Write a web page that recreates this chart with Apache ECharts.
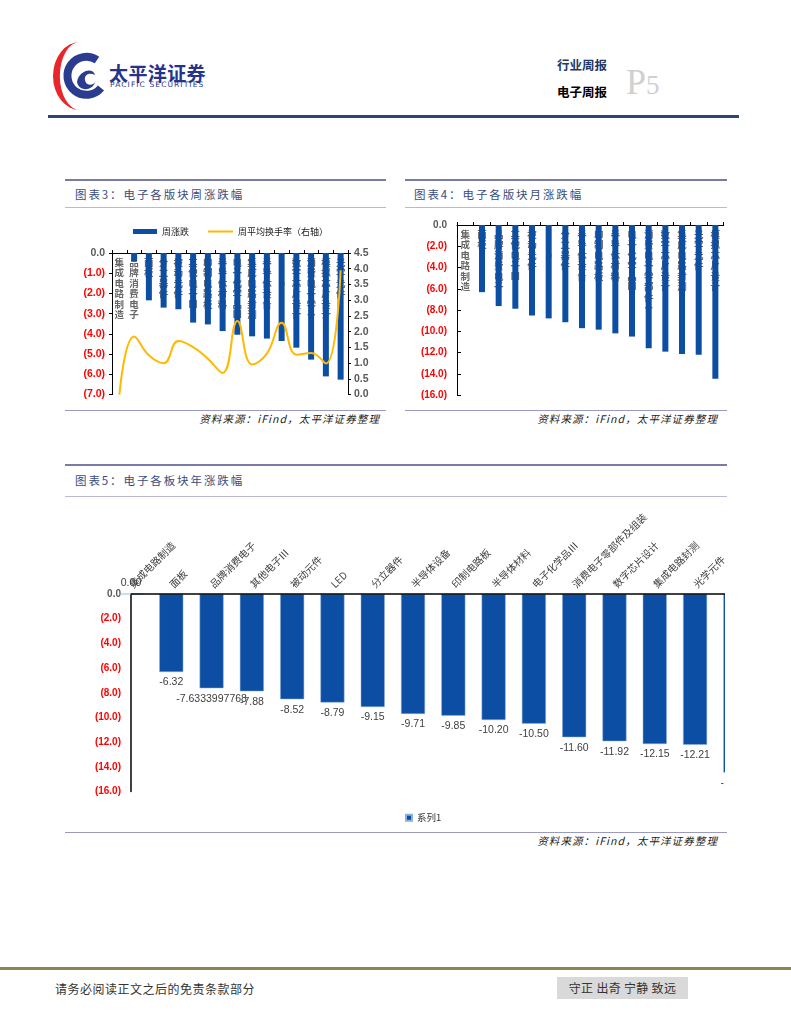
<!DOCTYPE html>
<html><head><meta charset="utf-8">
<script src="https://cdn.jsdelivr.net/npm/echarts@6/dist/echarts.min.js"></script>
<style>
html,body{margin:0;padding:0;background:#fff;}
body{width:791px;height:1024px;position:relative;overflow:hidden;font-family:"Noto Sans CJK SC","Noto Sans",sans-serif;}
.abs{position:absolute;}
.hl{position:absolute;height:0;}
.title{position:absolute;font-size:11.5px;color:#3a4d7a;letter-spacing:1.9px;white-space:nowrap;}
.src{position:absolute;font-size:10.5px;color:#222;font-style:italic;letter-spacing:1.1px;white-space:nowrap;text-align:right;}
</style></head>
<body>
<!-- header -->
<svg class="abs" style="left:0;top:0" width="791" height="125">
  <path d="M80 42 A27 34 0 0 0 80 110 A19 32 0 0 1 80 42 Z" fill="#e8262b"/>
  <path d="M97 60 A19 19 0 1 0 101 88" fill="none" stroke="#2a3c8f" stroke-width="8"/>
  <path d="M77 82 C79 70 93 67 95 75 C89 72 84 75 85 80 C86 86 93 86 95 82 C93 91 79 92 77 82 Z" fill="#2a3c8f"/>
</svg>
<div class="abs" style="left:109px;top:59px;font-size:19px;font-weight:bold;color:#25348a;letter-spacing:0.4px;">太平洋证券</div>
<div class="abs" style="left:110px;top:80px;font-size:7.5px;color:#25348a;letter-spacing:1.1px;font-family:'DejaVu Sans',sans-serif;">PACIFIC SECURITIES</div>
<div class="abs" style="left:557px;top:55px;font-size:12.5px;font-weight:bold;color:#1f3864;">行业周报</div>
<div class="abs" style="left:557px;top:82px;font-size:12.5px;font-weight:bold;color:#000;">电子周报</div>
<div class="abs" style="left:626px;top:64px;font-size:36px;color:#d0d0d0;font-family:'Liberation Serif','DejaVu Serif',serif;line-height:36px;">P<span style="font-size:27px">5</span></div>
<div class="hl" style="left:48px;top:115px;width:691px;border-top:3px solid #2c4670;"></div>

<!-- panel 3 -->
<div class="hl" style="left:65px;top:179px;width:321px;border-top:2px solid #7a7aa6;"></div>
<div class="title" style="left:75px;top:186px;">图表3：电子各版块周涨跌幅</div>
<div class="hl" style="left:65px;top:207px;width:321px;border-top:1px solid #b9b9d6;"></div>
<div class="hl" style="left:65px;top:410px;width:321px;border-top:1px solid #9a9ac0;"></div>
<div class="src" style="right:411px;top:411px;">资料来源：iFind，太平洋证券整理</div>

<!-- panel 4 -->
<div class="hl" style="left:405px;top:179px;width:322px;border-top:2px solid #7a7aa6;"></div>
<div class="title" style="left:414px;top:186px;">图表4：电子各版块月涨跌幅</div>
<div class="hl" style="left:405px;top:207px;width:322px;border-top:1px solid #b9b9d6;"></div>
<div class="hl" style="left:405px;top:410px;width:322px;border-top:1px solid #9a9ac0;"></div>
<div class="src" style="right:73px;top:411px;">资料来源：iFind，太平洋证券整理</div>

<!-- panel 5 -->
<div class="hl" style="left:65px;top:464px;width:662px;border-top:2px solid #7a7aa6;"></div>
<div class="title" style="left:75px;top:472px;">图表5：电子各板块年涨跌幅</div>
<div class="hl" style="left:65px;top:496px;width:662px;border-top:1px solid #b9b9d6;"></div>
<div class="hl" style="left:65px;top:832px;width:662px;border-top:1px solid #9a9ac0;"></div>
<div class="src" style="right:73px;top:833px;">资料来源：iFind，太平洋证券整理</div>

<!-- footer -->
<div class="hl" style="left:0;top:967px;width:791px;border-top:3px solid #8f8456;"></div>
<div class="abs" style="left:55px;top:980px;font-size:12px;color:#333;letter-spacing:0.5px;">请务必阅读正文之后的免责条款部分</div>
<div class="abs" style="left:557px;top:977px;width:131px;height:22px;background:#d9d9d9;font-size:12px;color:#333;line-height:22px;text-align:center;letter-spacing:0.3px;">守正 出奇 宁静 致远</div>

<div id="c34" class="abs" style="left:0;top:0;width:791px;height:1024px;"></div>
<div class="abs" style="left:0;top:0;width:725px;height:1024px;overflow:hidden;">
  <div id="c5" style="position:absolute;left:0;top:0;width:950px;height:1024px;"></div>
</div>

<script>
// ---- Chart 3 data (weekly) ----
var cats3 = ['集成电路制造','品牌消费电子','面板','分立器件','被动元件','其他电子Ⅲ','印制电路板','半导体材料','电子化学品Ⅲ','集成电路封测','半导体设备','LED','数字芯片设计','消费电子零…','模拟芯片设计','光学元件'];
var weekChange = [0, -0.4, -2.34, -2.70, -2.78, -3.44, -3.53, -3.86, -4.04, -4.12, -4.23, -4.35, -4.68, -5.27, -6.10, -6.26];
var weekTurnover = [0.0, 1.85, 1.25, 1.0, 1.70, 1.51, 1.14, 0.69, 2.34, 0.96, 1.30, 2.28, 1.27, 1.32, 0.99, 3.95];
// ---- Chart 4 data (monthly) ----
var cats4 = ['集成电路制造','面板','品牌消费电子','其他电子Ⅲ','被动元件','LED','分立器件','半导体设备','印制电路板','半导体材料','电子化学品Ⅲ','消费电子零部件…','数字芯片设计','集成电路封测','光学元件','模拟芯片设计'];
var monthChange = [0, -6.32, -7.63, -7.88, -8.52, -8.79, -9.15, -9.71, -9.85, -10.20, -10.50, -11.60, -11.92, -12.15, -12.21, -14.46];
// ---- Chart 5 data (yearly) ----
var cats5 = ['集成电路制造','面板','品牌消费电子','其他电子Ⅲ','被动元件','LED','分立器件','半导体设备','印制电路板','半导体材料','电子化学品Ⅲ','消费电子零部件及组装','数字芯片设计','集成电路封测','光学元件','模拟芯片设计'];
var yearChange = [0, -6.32, -7.6333997768, -7.88, -8.52, -8.79, -9.15, -9.71, -9.85, -10.20, -10.50, -11.60, -11.92, -12.15, -12.21, -14.46];
var yearLabels = ['0.00','-6.32','-7.6333997768','-7.88','-8.52','-8.79','-9.15','-9.71','-9.85','-10.20','-10.50','-11.60','-11.92','-12.15','-12.21','-14.46'];
// tick label lists
var ticksRight3 = ['0.0','0.5','1.0','1.5','2.0','2.5','3.0','3.5','4.0','4.5'];

var BLUE = '#0c4ea3';
var NUMFONT = '"Liberation Sans", Arial, sans-serif';
function negFmt(v){
  if (Math.abs(v) < 1e-9) return '{z|0.0}';
  return '{r|(' + Math.abs(v).toFixed(1) + ')}';
}
function vert(s){ return s.split('').join('\n'); }
var negRich = function(fs){ return {
  z:{color:'#595959', fontWeight:'bold', fontSize:fs, fontFamily:NUMFONT},
  r:{color:'#ff0000', fontWeight:'bold', fontSize:fs, fontFamily:NUMFONT}
};};
var vLabel = {
  inside:true, interval:0, formatter:vert, color:'#666', fontWeight:'bold',
  fontSize:9.5, lineHeight:10.5, verticalAlign:'top', margin:4,
  fontFamily:'"Noto Sans CJK SC", sans-serif'
};

var c34 = echarts.init(document.getElementById('c34'), null, {renderer:'canvas'});
c34.setOption({
  animation:false,
  legend:[
    {data:['周涨跌'], left:128, top:222, itemWidth:24, itemHeight:5, icon:'rect', itemGap:5,
     textStyle:{fontSize:9, color:'#222', fontFamily:'"Noto Sans CJK SC", sans-serif'}},
    {data:['周平均换手率（右轴）'], left:203, top:222, itemWidth:25, itemHeight:2, icon:'rect', itemGap:5,
     textStyle:{fontSize:9, color:'#222', fontFamily:'"Noto Sans CJK SC", sans-serif'}}
  ],
  grid:[
    {left:112, top:253, width:236, height:141.6, outerBoundsMode:'none'},
    {left:457, top:225, width:266.7, height:170, outerBoundsMode:'none'}
  ],
  xAxis:[
    {gridIndex:0, type:'category', position:'top', data:cats3,
     axisLine:{show:true, lineStyle:{color:'#000', width:1}},
     axisTick:{show:true, inside:false, length:3, lineStyle:{color:'#000'}},
     axisLabel:vLabel},
    {gridIndex:1, type:'category', position:'top', data:cats4,
     axisLine:{show:true, lineStyle:{color:'#000', width:1}},
     axisTick:{show:true, inside:false, length:3, lineStyle:{color:'#000'}},
     axisLabel:vLabel}
  ],
  yAxis:[
    {gridIndex:0, type:'value', min:-7, max:0, interval:1,
     axisLine:{show:true, lineStyle:{color:'#000'}}, axisTick:{show:true, length:3, lineStyle:{color:'#000'}},
     splitLine:{show:false},
     axisLabel:{formatter:negFmt, rich:negRich(10.5), margin:7}},
    {gridIndex:0, type:'value', min:0, max:4.5, interval:0.5, position:'right',
     axisLine:{show:true, lineStyle:{color:'#000'}}, axisTick:{show:true, length:3, lineStyle:{color:'#000'}},
     splitLine:{show:false},
     axisLabel:{formatter:function(v){ return ticksRight3[Math.round(v*2)]; }, color:'#595959', fontWeight:'bold', fontSize:10.5, fontFamily:NUMFONT, margin:6}},
    {gridIndex:1, type:'value', min:-16, max:0, interval:2,
     axisLine:{show:true, lineStyle:{color:'#000'}}, axisTick:{show:true, inside:true, length:4, lineStyle:{color:'#000'}},
     splitLine:{show:false},
     axisLabel:{formatter:negFmt, rich:negRich(10), margin:10}}
  ],
  series:[
    {name:'周涨跌', type:'bar', xAxisIndex:0, yAxisIndex:0, data:weekChange, barWidth:6,
     itemStyle:{color:BLUE}, z:1},
    {name:'周平均换手率（右轴）', type:'line', xAxisIndex:0, yAxisIndex:1, data:weekTurnover,
     smooth:0.45, showSymbol:false, symbol:'none', lineStyle:{color:'#ffb900', width:2}, itemStyle:{color:'#ffb900'}, z:3},
    {name:'月涨跌', type:'bar', xAxisIndex:1, yAxisIndex:2, data:monthChange, barWidth:6,
     itemStyle:{color:BLUE}, z:1}
  ]
});

// Chart 5: category band 40.29px; first category centre sits on the value axis line
var c5 = echarts.init(document.getElementById('c5'), null, {renderer:'canvas'});
var band5 = 40.29;
var bars5 = yearChange.map(function(v){
  return {value:v, label:{position: v===0 ? 'top' : 'bottom'}};
});
c5.setOption({
  animation:false,
  legend:{data:['系列1'], left:400, top:808, itemWidth:6, itemHeight:6, icon:'rect', itemGap:4,
    textStyle:{fontSize:9.5, color:'#333', fontFamily:'"Noto Sans CJK SC", sans-serif'}},
  grid:{left:131 - band5/2, top:594, width:band5*cats5.length, height:197.6, outerBoundsMode:'none'},
  xAxis:{type:'category', position:'top', data:cats5,
    axisLine:{show:false}, axisTick:{show:false}, splitLine:{show:false},
    axisLabel:{interval:0, rotate:45, margin:8, color:'#404040', fontSize:10,
      fontFamily:'"Noto Sans CJK SC", sans-serif'}},
  yAxis:{type:'value', min:-16, max:0, interval:2, offset:-band5/2,
    axisLine:{show:true, onZero:false, lineStyle:{color:'#000', width:1.5}}, axisTick:{show:false},
    splitLine:{show:false},
    axisLabel:{formatter:negFmt, rich:negRich(10), margin:10}},
  series:[{name:'系列1', type:'bar', data:bars5, barWidth:24,
    itemStyle:{color:BLUE, borderColor:'#8fb0dc', borderWidth:0.5},
    label:{show:true, distance:5, color:'#404040', fontSize:10.5, fontFamily:NUMFONT,
      formatter:function(p){ return yearLabels[p.dataIndex]; }},
    markLine:{silent:true, symbol:['none','none'], label:{show:false},
      lineStyle:{color:'#000', width:1.5, type:'solid'},
      data:[[{coord:[0, 0]}, {coord:[cats5.length - 1, 0]}]]}
  }]
});
</script>
</body></html>
